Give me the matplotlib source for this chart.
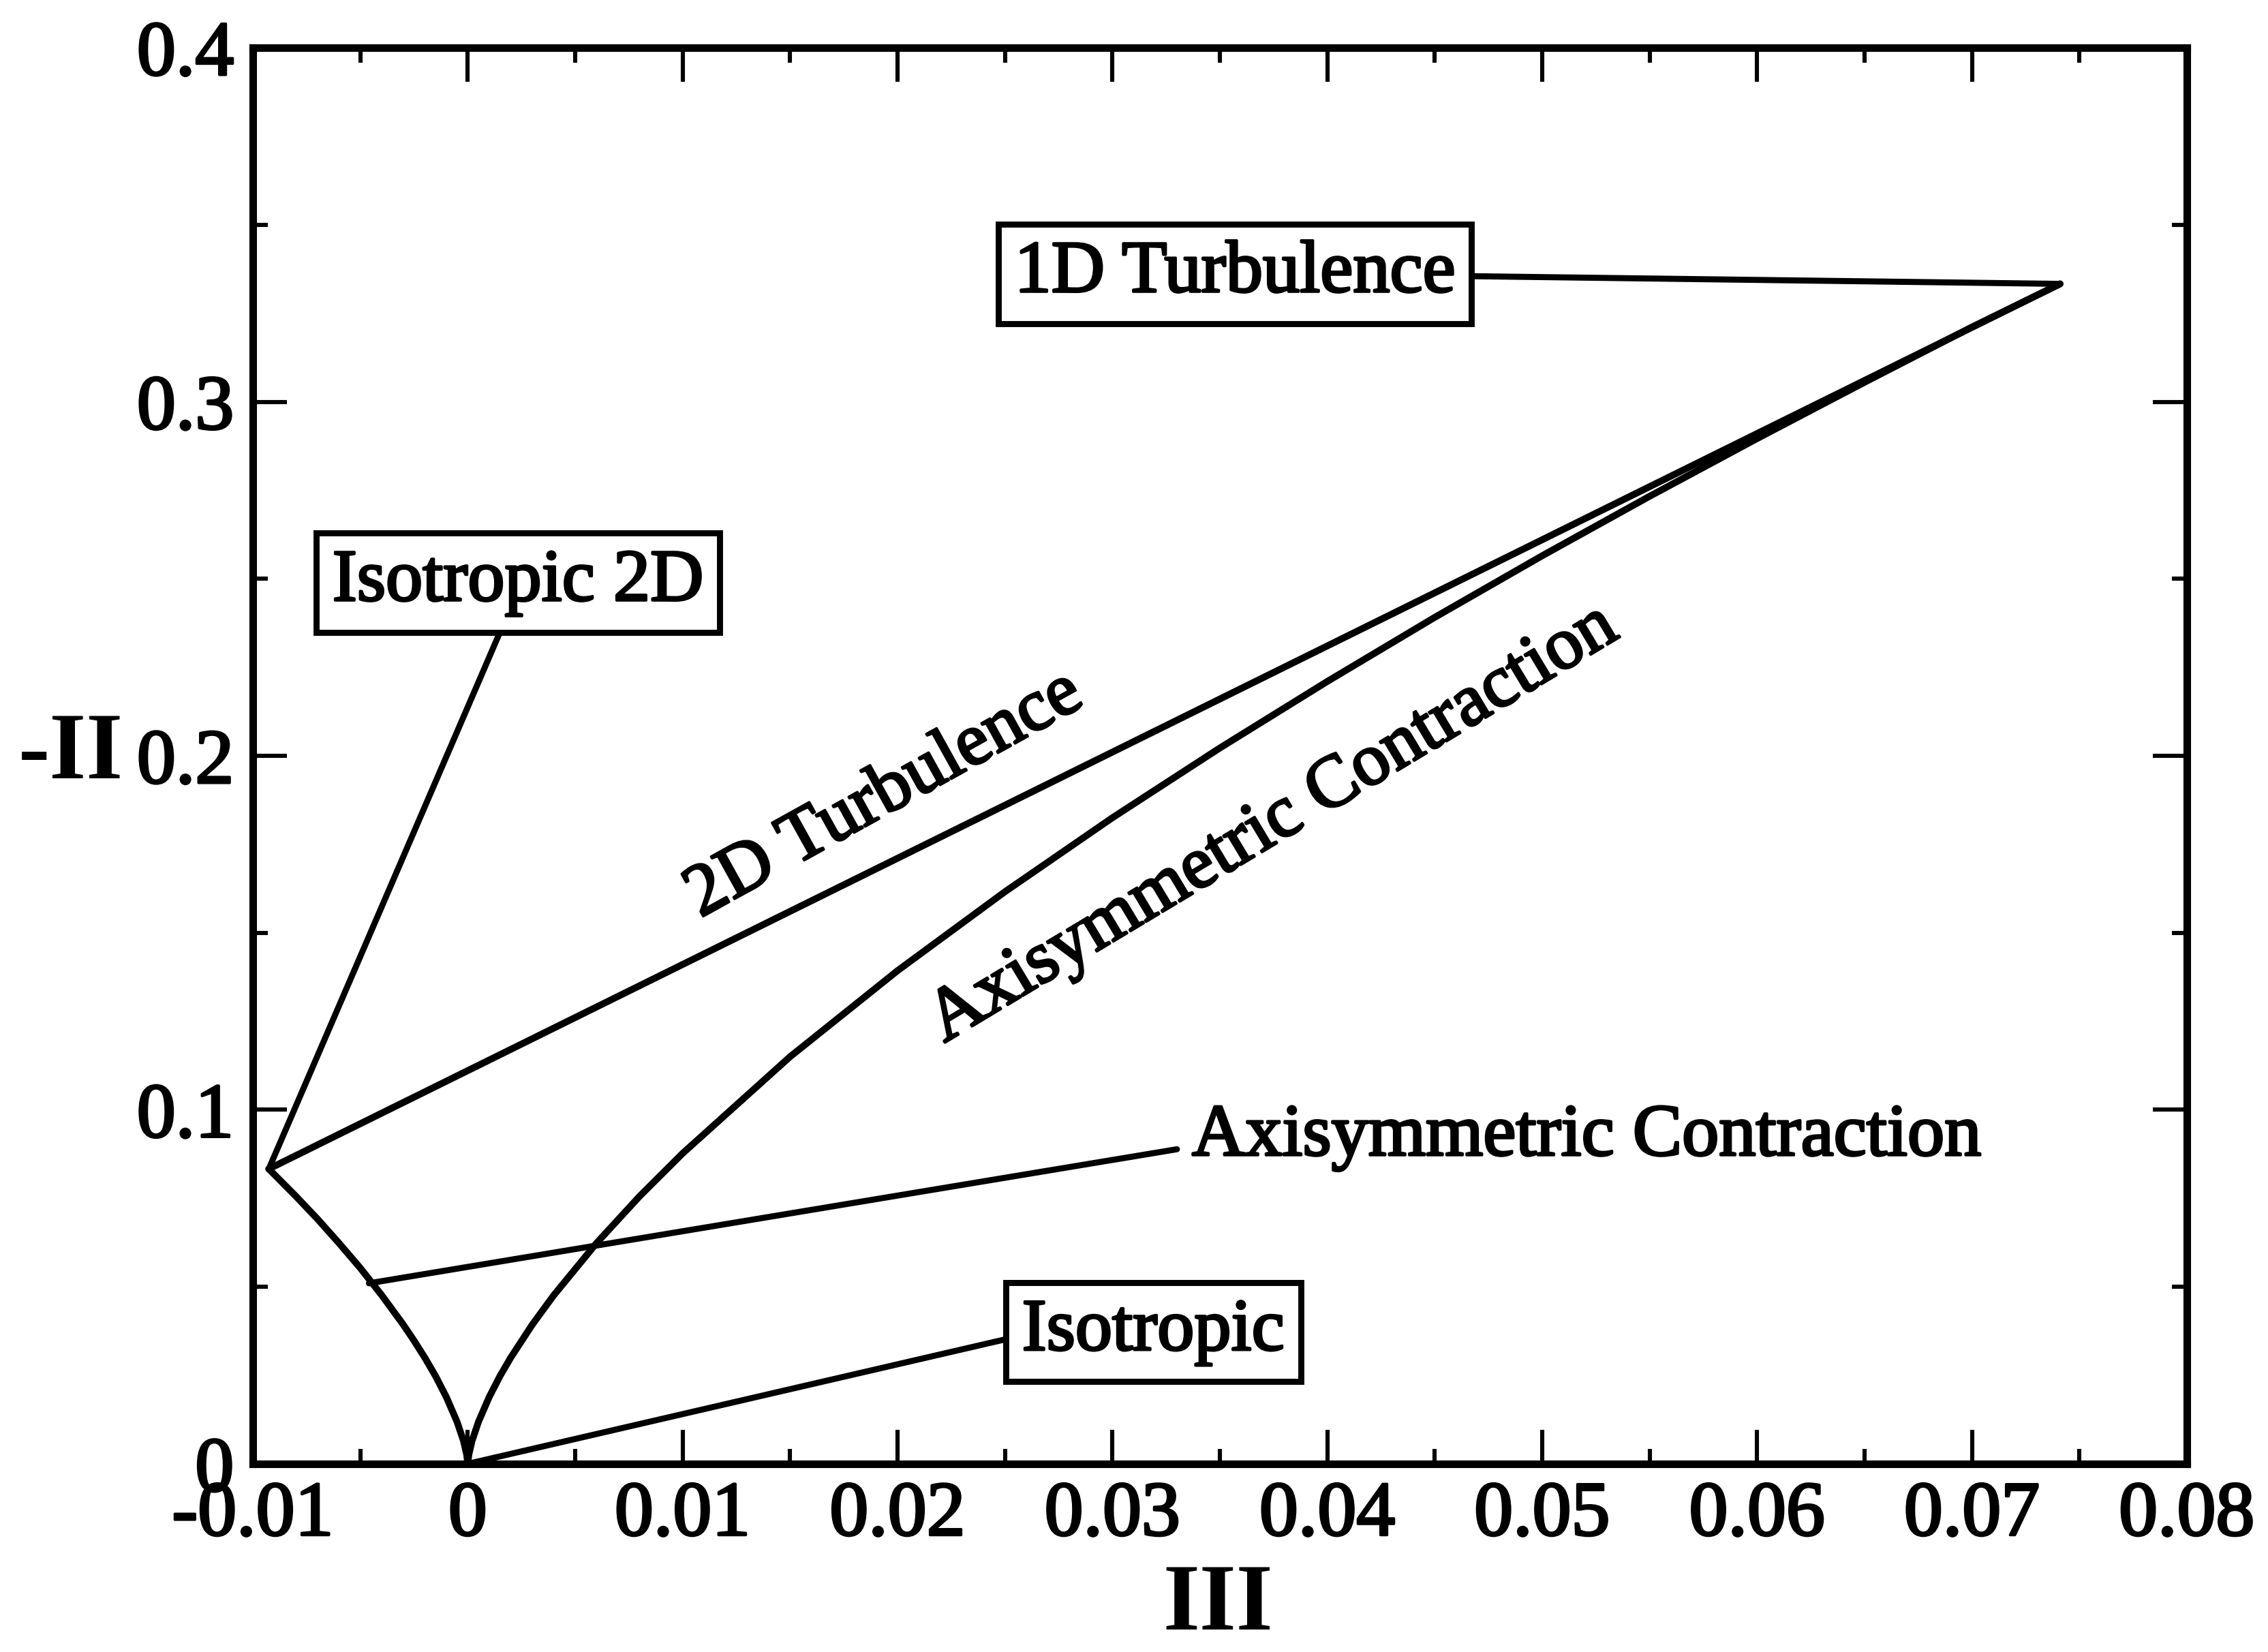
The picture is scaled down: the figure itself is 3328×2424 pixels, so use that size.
import numpy as np
import matplotlib
matplotlib.use('Agg')
import matplotlib.pyplot as plt
import matplotlib.patheffects as pe
from matplotlib.ticker import MultipleLocator

plt.rcParams['font.family'] = ['Liberation Serif', 'DejaVu Serif']

# Lumley triangle boundaries
# left branch (axisymmetric, III < 0)
left_iii = [-0.00926, -0.008, -0.007, -0.006, -0.005, -0.004, -0.003, -0.0025,
            -0.002, -0.0015, -0.001, -0.0005, -0.0002, -0.00005, 0.0]
left_ii = [0.0833, 0.0756, 0.0692, 0.0624, 0.0553, 0.0476, 0.0393, 0.0348,
           0.0300, 0.0248, 0.0189, 0.0119, 0.0065, 0.0026, 0.0]

# right branch (axisymmetric contraction, III > 0)
right_iii = [0.0, 0.00005, 0.0002, 0.0005, 0.001, 0.0015, 0.002, 0.003, 0.004,
             0.006, 0.008, 0.010, 0.015, 0.020, 0.025, 0.030, 0.035, 0.040,
             0.045, 0.050, 0.055, 0.060, 0.065, 0.070, 0.0741]
right_ii = [0.0, 0.0026, 0.0065, 0.0119, 0.0189, 0.0248, 0.0300, 0.0393, 0.0476,
            0.0624, 0.0756, 0.0877, 0.1150, 0.1393, 0.1616, 0.1825, 0.2022, 0.2210,
            0.2391, 0.2565, 0.2733, 0.2896, 0.3055, 0.3211, 0.3333]

# 2D turbulence line
top_iii = [-0.00926, 0.0741]
top_ii = [0.0833, 0.3333]

x_ticks = [-0.01, 0.0, 0.01, 0.02, 0.03, 0.04, 0.05, 0.06, 0.07, 0.08]
x_tick_labels = ['-0.01', '0', '0.01', '0.02', '0.03', '0.04', '0.05', '0.06', '0.07', '0.08']
y_ticks = [0.0, 0.1, 0.2, 0.3, 0.4]
y_tick_labels = ['0', '0.1', '0.2', '0.3', '0.4']

fig = plt.figure(figsize=(16.64, 12.12), dpi=200)
fig.subplots_adjust(left=0.1115, right=0.9642, bottom=0.1139, top=0.9711)
ax = fig.add_subplot(111)

lw = 3.6
ax.plot(left_iii, left_ii, color='black', lw=lw, solid_capstyle='round')
ax.plot(right_iii, right_ii, color='black', lw=lw, solid_capstyle='round')
ax.plot(top_iii, top_ii, color='black', lw=lw, solid_capstyle='round')

ax.set_xlim(-0.01, 0.08)
ax.set_ylim(0, 0.4)
ax.set_xticks(x_ticks)
ax.set_xticklabels(x_tick_labels)
ax.set_yticks(y_ticks)
ax.set_yticklabels(y_tick_labels)
ax.xaxis.set_minor_locator(MultipleLocator(0.005))
ax.yaxis.set_minor_locator(MultipleLocator(0.05))
ax.tick_params(which='both', direction='in', top=True, right=True, width=2.2)
ax.tick_params(which='major', length=18, labelsize=41)
ax.tick_params(axis='x', which='major', pad=9)
ax.tick_params(axis='y', which='major', pad=10)
ax.tick_params(which='minor', length=8)
for s in ax.spines.values():
    s.set_linewidth(4)

# heavier strokes, like the scanned original
heavy = [pe.withStroke(linewidth=1.3, foreground='black')]
for lab in ax.get_xticklabels() + ax.get_yticklabels():
    lab.set_path_effects(heavy)

ax.set_xlabel('III', fontsize=50, fontweight='bold')
ax.xaxis.set_label_coords(0.499, -0.101)
ax.xaxis.label.set_va('center')
ax.set_ylabel('-II', fontsize=50, fontweight='bold', rotation=0)
ax.yaxis.set_label_coords(-0.094, 0.5)
ax.yaxis.label.set_va('center')
ax.yaxis.label.set_ha('center')

box = dict(boxstyle='square,pad=0.22', fc='white', ec='black', lw=3.2)
line = dict(arrowstyle='-', color='black', lw=3.2, shrinkA=0, shrinkB=0)
fs = 39

ax.annotate('1D Turbulence', xy=(0.0741, 0.3333), xytext=(0.0357, 0.3361),
            ha='center', va='center', fontsize=fs, bbox=box, path_effects=heavy,
            arrowprops=dict(line, relpos=(1.0, 0.47)))
ax.annotate('Isotropic 2D', xy=(-0.00926, 0.0833), xytext=(0.00234, 0.2489),
            ha='center', va='center', fontsize=fs, bbox=box, path_effects=heavy,
            arrowprops=dict(line, relpos=(0.47, 0.0)))
ax.annotate('Isotropic', xy=(0.0, 0.0), xytext=(0.0319, 0.0372),
            ha='center', va='center', fontsize=fs, bbox=box, path_effects=heavy,
            arrowprops=dict(line, relpos=(0.0, 0.45)))
ax.annotate('Axisymmetric Contraction', xy=(-0.0046, 0.051), xytext=(0.0337, 0.0872),
            ha='left', va='baseline', fontsize=fs, path_effects=heavy,
            arrowprops=dict(line, relpos=(0.0, 0.36), shrinkA=6))

ax.text(0.0194, 0.1888, '2D Turbulence', fontsize=fs, rotation=29,
        rotation_mode='anchor', ha='center', va='center', path_effects=heavy)
ax.text(0.0375, 0.1806, 'Axisymmetric Contraction', fontsize=fs, rotation=31,
        rotation_mode='anchor', ha='center', va='center', path_effects=heavy)

fig.savefig('out.png', dpi=200)
